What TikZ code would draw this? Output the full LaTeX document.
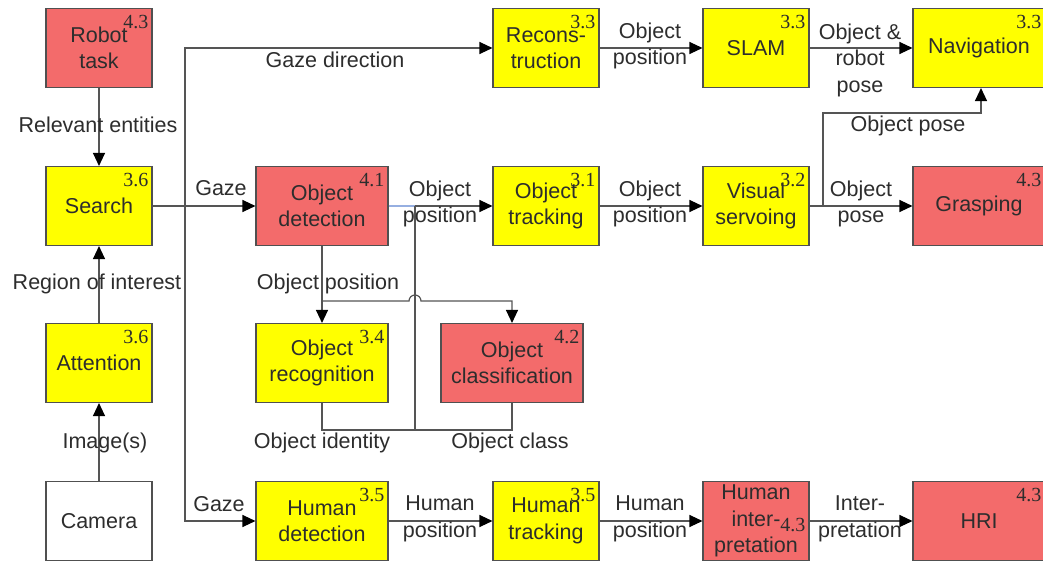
\documentclass[tikz,border=0pt]{standalone}
\usepackage{fontspec}
\setmainfont{Liberation Sans}
\newfontfamily\numserif{Liberation Serif}
\usetikzlibrary{arrows.meta}
\definecolor{boxred}{RGB}{243,107,107}
\definecolor{boxyel}{RGB}{255,255,0}
\definecolor{boxline}{RGB}{80,80,80}
\definecolor{txt}{RGB}{45,45,45}
\definecolor{wire}{RGB}{85,85,85}
\definecolor{lblue}{RGB}{150,175,225}
\newcommand{\boxfont}{\fontsize{21.5}{26.5}\selectfont}
\newcommand{\numfont}{\numserif\fontsize{20}{22}\selectfont}
\tikzset{
  box/.style={draw=boxline, line width=1.1pt, align=center, font=\boxfont, text=txt,
              inner sep=0pt, minimum height=79pt},
  narrow/.style={box, minimum width=106pt},
  wide/.style={box, minimum width=132pt},
  redbox/.style={fill=boxred},
  yelbox/.style={fill=boxyel},
  whitebox/.style={fill=white},
  num/.style={font=\numfont, text=txt, anchor=base east, inner sep=0pt},
  lbl/.style={font=\boxfont, text=txt, align=center, inner sep=0pt},
  wireline/.style={draw=wire, line width=1.2pt},
  arr/.style={wireline, -{Triangle[length=13pt,width=12pt,fill=black,color=black]}},
}
\begin{document}
\begin{tikzpicture}[x=1pt,y=-1pt]
\useasboundingbox (0,0) rectangle (1043,561);
\clip (0,0) rectangle (1043,561);
\fill[white] (0,0) rectangle (1043,561);

% boxes
\node[narrow,redbox] (robot) at (99,48) {Robot\\task};
\node[narrow,yelbox] (search) at (99,206) {Search};
\node[narrow,yelbox] (attention) at (99,363) {Attention};
\node[narrow,whitebox] (camera) at (99,521) {Camera};
\node[wide,redbox] (objdet) at (322,206) {Object\\detection};
\node[wide,yelbox] (objrec) at (322,363) {Object\\recognition};
\node[box,redbox,minimum width=142pt] (objclass) at (512,363) {Object\\classification};
\node[wide,yelbox] (humdet) at (322,521) {Human\\detection};
\node[narrow,yelbox] (recon) at (546,48) {Recons-\\truction};
\node[narrow,yelbox] (objtrack) at (546,206) {Object\\tracking};
\node[narrow,yelbox] (humtrack) at (546,521) {Human\\tracking};
\node[narrow,yelbox] (slam) at (756,48) {SLAM};
\node[narrow,yelbox] (vs) at (756,206) {Visual\\servoing};
\node[narrow,redbox] (huminterp) at (756,521) {Human\\inter-\\pretation};
\node[wide,yelbox] (nav) at (979,48) {Navigation};
\node[wide,redbox] (grasp) at (979,206) {Grasping};
\node[wide,redbox] (hri) at (979,521) {HRI};

% section numbers
\node[num] at ([xshift=-4pt,yshift=-21pt]robot.north east) {4.3};
\node[num] at ([xshift=-4pt,yshift=-21pt]search.north east) {3.6};
\node[num] at ([xshift=-4pt,yshift=-21pt]attention.north east) {3.6};
\node[num] at ([xshift=-4pt,yshift=-21pt]objdet.north east) {4.1};
\node[num] at ([xshift=-4pt,yshift=-21pt]objrec.north east) {3.4};
\node[num] at ([xshift=-4pt,yshift=-21pt]objclass.north east) {4.2};
\node[num] at ([xshift=-4pt,yshift=-21pt]humdet.north east) {3.5};
\node[num] at ([xshift=-4pt,yshift=-21pt]recon.north east) {3.3};
\node[num] at ([xshift=-4pt,yshift=-21pt]objtrack.north east) {3.1};
\node[num] at ([xshift=-4pt,yshift=-21pt]humtrack.north east) {3.5};
\node[num] at ([xshift=-4pt,yshift=-21pt]slam.north east) {3.3};
\node[num] at ([xshift=-4pt,yshift=-21pt]vs.north east) {3.2};
\node[num] at ([xshift=-4pt,yshift=-10pt]huminterp.east) {4.3};
\node[num] at ([xshift=-4pt,yshift=-21pt]nav.north east) {3.3};
\node[num] at ([xshift=-4pt,yshift=-21pt]grasp.north east) {4.3};
\node[num] at ([xshift=-4pt,yshift=-21pt]hri.north east) {4.3};

% left column
\draw[arr] (robot) -- (search);
\draw[arr] (attention) -- (search);
\draw[arr] (camera) -- (attention);

% gaze branch
\coordinate (bj) at (185,206);
\draw[wireline] (search.east) -- (bj);
\draw[arr] (bj) -- (objdet.west);
\draw[arr] (bj) |- (recon.west);
\draw[arr] (bj) |- (humdet.west);

% object detection outputs
\coordinate (mj) at (415,206);
\coordinate (mb) at (415,430);
\coordinate (hj) at (322,301);
\draw[draw=lblue, line width=1.2pt] (objdet.east) -- (mj);
\draw[arr] (mj) -- (objtrack.west);
\draw[wireline] (objrec.south) |- (mb) -| (objclass.south);
\draw[wireline] (mb) -- (mj);
\draw[arr] (objdet.south) -- (objrec.north);
\draw[arr] (hj) -- (409,301) arc[start angle=180, end angle=360, radius=6] -- (512,301) -- (objclass.north);

% top row
\draw[arr] (recon) -- (slam);
\draw[arr] (slam) -- (nav);

% middle row
\draw[arr] (objtrack) -- (vs);
\draw[arr] (vs) -- (grasp);
\coordinate (vj) at (823,206);
\draw[arr] (vj) -- (823,113) -| ([xshift=2pt]nav.south);

% bottom row
\draw[arr] (humdet) -- (humtrack);
\draw[arr] (humtrack) -- (huminterp);
\draw[arr] (huminterp) -- (hri);

% labels
\node[lbl] (l1) at (98,125) {Relevant entities};
\node[lbl] (l2) at (97,284) {Region of interest};
\node[lbl] (l3) at (105,443) {Image(s)};
\node[lbl] (l4) at (335,60) {Gaze direction};
\node[lbl] (l5) at (221,188) {Gaze};
\node[lbl] (l6) at (219,504) {Gaze};
\node[lbl] (l7) at (440,204) {Object\\position};
\node[lbl] (l8) at (328,284) {Object position};
\node[lbl] (l9) at (322,443) {Object identity};
\node[lbl] (l10) at (510,443) {Object class};
\node[lbl] (l11) at (650,46) {Object\\position};
\node[lbl] (l12) at (860,60) {Object \&\\robot\\pose};
\node[lbl] (l13) at (650,204) {Object\\position};
\node[lbl] (l14) at (908,126) {Object pose};
\node[lbl] (l15) at (861,204) {Object\\pose};
\node[lbl] (l16) at (440,519) {Human\\position};
\node[lbl] (l17) at (650,519) {Human\\position};
\node[lbl] (l18) at (860,519) {Inter-\\pretation};
\end{tikzpicture}
\end{document}
